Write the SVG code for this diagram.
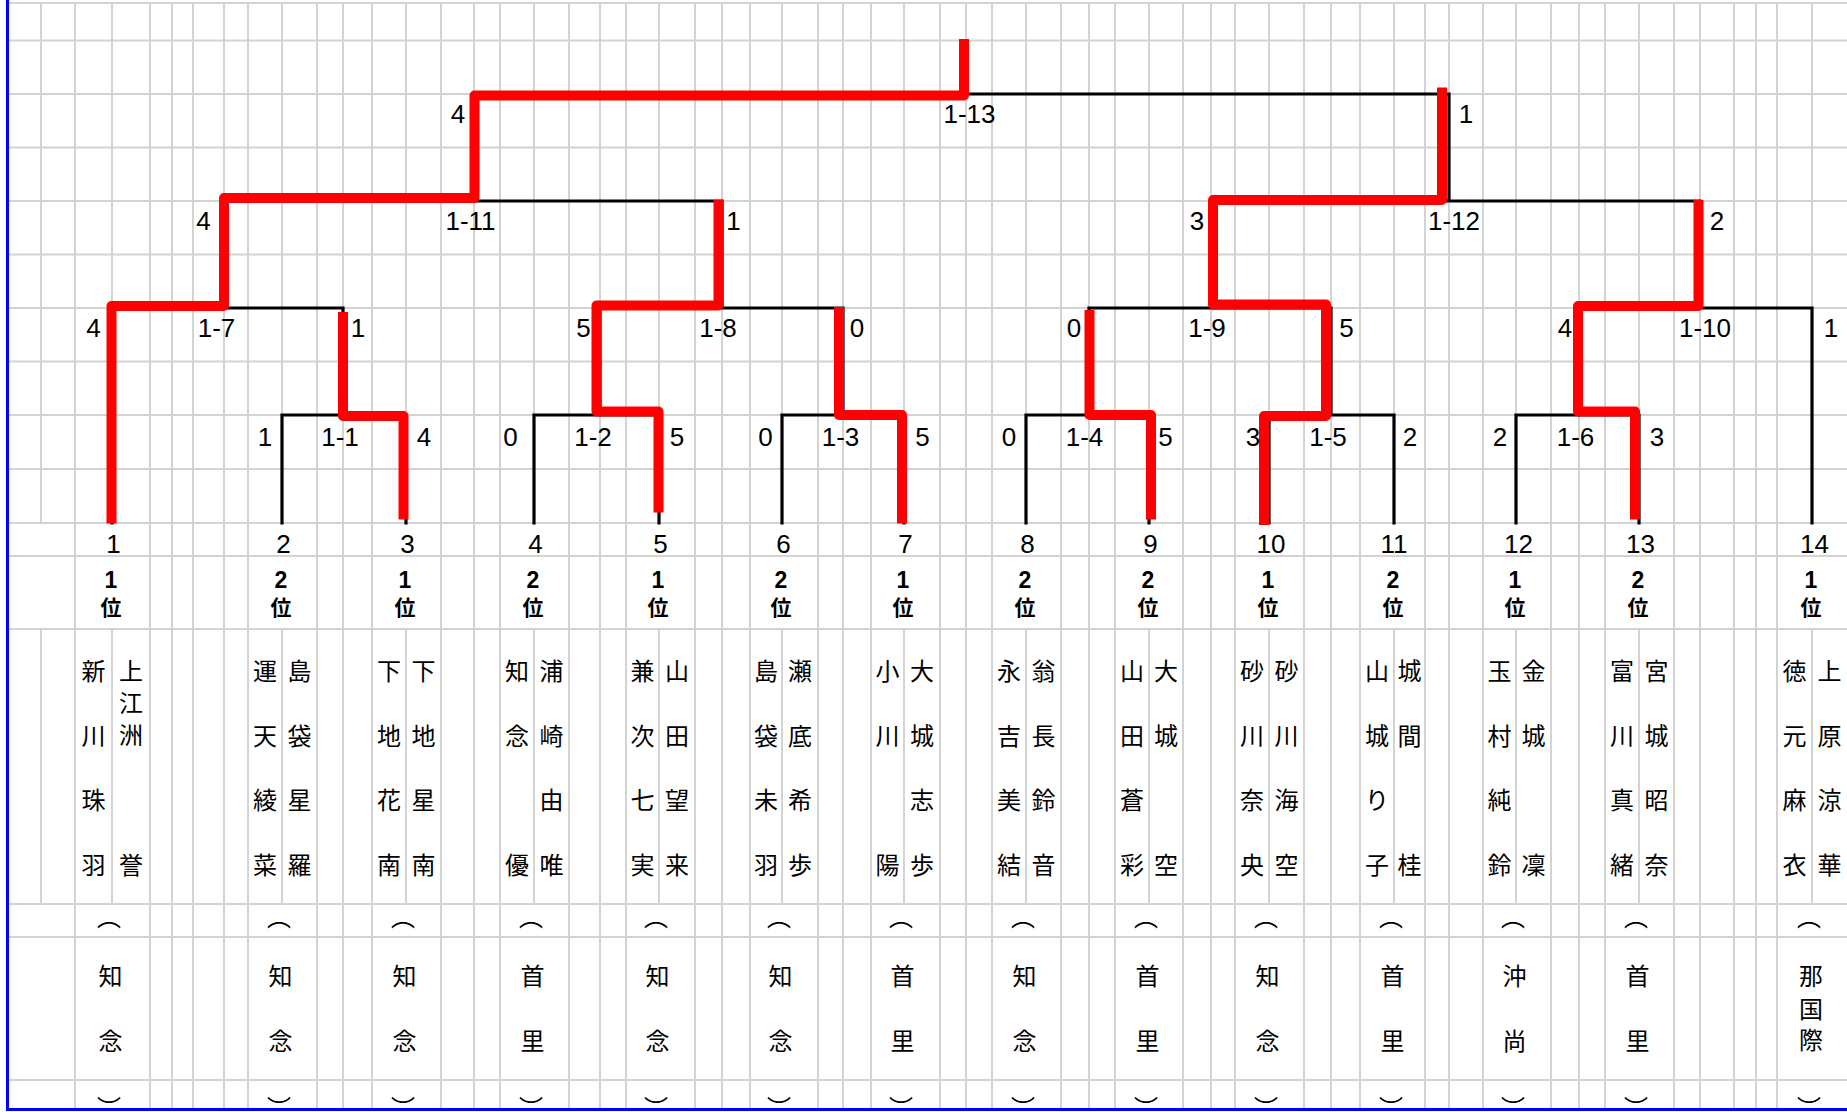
<svg xmlns="http://www.w3.org/2000/svg" width="1847" height="1112" viewBox="0 0 1847 1112">
<style>
.g{stroke:#d3d3d3;stroke-width:2;fill:none}
.bk{stroke:#000;stroke-width:3.2;fill:none;stroke-linecap:square}
.rd{stroke:#ff0000;stroke-width:10;fill:none;stroke-linejoin:round}
.sc{font-family:"Liberation Sans","Noto Sans CJK JP",sans-serif;font-size:26px;text-anchor:middle;fill:#000}
.rk{font-family:"Liberation Sans",sans-serif;font-weight:bold;font-size:23px;text-anchor:middle;fill:#000}
.ri{font-family:"Noto Sans CJK JP",sans-serif;font-weight:bold;font-size:21px;text-anchor:middle;fill:#000}
.nm{font-family:"Noto Sans CJK JP",sans-serif;font-size:24px;text-anchor:middle;fill:#000}
</style>
<rect width="1847" height="1112" fill="#fff"/>
<g id="grid">
<path class="g" d="M8 3H1847M8 40.5H1847M8 94H1847M8 147.5H1847M8 201H1847M8 254.5H1847M8 308H1847M8 361.5H1847M8 415H1847M8 469H1847M8 523H1847M8 556H1847M8 629H1847M8 904H1847M8 937H1847M8 1080H1847"/>
<path class="g" d="M75 3V1108M150 3V1108M172 3V1108M193 3V1108M224 3V1108M248 3V1108M317 3V1108M343 3V1108M372 3V1108M441 3V1108M474 3V1108M500 3V1108M569 3V1108M600 3V1108M626 3V1108M695 3V1108M722 3V1108M750 3V1108M818 3V1108M843 3V1108M871 3V1108M940 3V1108M966 3V1108M992 3V1108M1061 3V1108M1089 3V1108M1115 3V1108M1183 3V1108M1211 3V1108M1235 3V1108M1304 3V1108M1331 3V1108M1360 3V1108M1425 3V1108M1449 3V1108M1483 3V1108M1551 3V1108M1579 3V1108M1605 3V1108M1674 3V1108M1700 3V1108M1734 3V1108M1756 3V1108M1777 3V1108"/>
<path class="g" d="M41 3V523M41 629V904M112 3V523M112 629V904M282 3V523M282 629V904M406 3V523M406 629V904M534 3V523M534 629V904M659 3V523M659 629V904M782 3V523M782 629V904M904 3V523M904 629V904M1026 3V523M1026 629V904M1149 3V523M1149 629V904M1269 3V523M1269 629V904M1394 3V523M1394 629V904M1516 3V523M1516 629V904M1639 3V523M1639 629V904M1812 3V523M1812 629V904"/>
<path d="M7.5 0V1111M6 1109.5H1847" stroke="#0000ff" stroke-width="3" fill="none"/>
</g>
<g id="connectors">
<path class="bk" d="M112 308V523M282 415V523M406 415V523M534 415V523M659 415V523M782 415V523M904 415V523M1026 415V523M1149 415V523M1269 415V523M1394 415V523M1516 415V523M1639 415V523M1812 308V523M282 415H406M534 415H659M782 415H904M1026 415H1149M1269 415H1394M1516 415H1639M343 415V308M600 415V308M843 415V308M1089 415V308M1331 415V308M1579 415V308M112 308H343M600 308H843M1089 308H1331M1579 308H1812M224 308V201M722 308V201M1211 308V201M1700 308V201M224 201H722M1211 201H1700M474 201V94M1449 201V94M474 94H1449"/>
<path class="rd" d="M111.5 523.5V306H224V198H474.5V95.5H964V39"/>
<path class="rd" d="M403.5 519.5V416H343V312"/>
<path class="rd" d="M658.5 512.5V411.5H596.5V305.5H718.5V200"/>
<path class="rd" d="M902 523.5V415H839V307"/>
<path class="rd" d="M1151 519.5V415H1089.5V310"/>
<path class="rd" d="M1264 525V416H1326V304.5H1213V200H1442V87.5"/>
<path class="rd" d="M1635 519.5V411.5H1578V306H1698.5V200"/>
</g>
<g id="scores">
<text class="sc" x="458" y="123">4</text>
<text class="sc" x="969.5" y="123">1-13</text>
<text class="sc" x="1466" y="123">1</text>
<text class="sc" x="203.5" y="230">4</text>
<text class="sc" x="470.5" y="230">1-11</text>
<text class="sc" x="733.5" y="230">1</text>
<text class="sc" x="1197" y="230">3</text>
<text class="sc" x="1454" y="230">1-12</text>
<text class="sc" x="1717" y="230">2</text>
<text class="sc" x="93.5" y="337">4</text>
<text class="sc" x="216.5" y="337">1-7</text>
<text class="sc" x="358" y="337">1</text>
<text class="sc" x="583.5" y="337">5</text>
<text class="sc" x="718" y="337">1-8</text>
<text class="sc" x="857" y="337">0</text>
<text class="sc" x="1074" y="337">0</text>
<text class="sc" x="1207" y="337">1-9</text>
<text class="sc" x="1346.5" y="337">5</text>
<text class="sc" x="1565" y="337">4</text>
<text class="sc" x="1705" y="337">1-10</text>
<text class="sc" x="1831" y="337">1</text>
<text class="sc" x="265" y="446">1</text>
<text class="sc" x="340" y="446">1-1</text>
<text class="sc" x="424" y="446">4</text>
<text class="sc" x="510.5" y="446">0</text>
<text class="sc" x="593" y="446">1-2</text>
<text class="sc" x="677" y="446">5</text>
<text class="sc" x="765.5" y="446">0</text>
<text class="sc" x="840.5" y="446">1-3</text>
<text class="sc" x="922.5" y="446">5</text>
<text class="sc" x="1009" y="446">0</text>
<text class="sc" x="1084.5" y="446">1-4</text>
<text class="sc" x="1165.5" y="446">5</text>
<text class="sc" x="1253" y="446">3</text>
<text class="sc" x="1328" y="446">1-5</text>
<text class="sc" x="1410" y="446">2</text>
<text class="sc" x="1500" y="446">2</text>
<text class="sc" x="1575.5" y="446">1-6</text>
<text class="sc" x="1657" y="446">3</text>
</g>
<g id="team1">
<text class="sc" x="113.5" y="553">1</text>
<text class="rk" x="111" y="587.5">1</text><text class="ri" x="111" y="615">位</text>
<text class="nm" x="93.5" y="680">新</text><text class="nm" x="93.5" y="744.5">川</text><text class="nm" x="93.5" y="809">珠</text><text class="nm" x="93.5" y="873.5">羽</text>
<text class="nm" x="131" y="680">上</text><text class="nm" x="131" y="712">江</text><text class="nm" x="131" y="744">洲</text><text class="nm" x="131" y="873.5">誉</text>
<text class="nm" x="109" y="926">︵</text><text class="nm" x="110.5" y="985">知</text><text class="nm" x="110.5" y="1049.5">念</text><text class="nm" x="109" y="1117">︶</text>
</g>
<g id="team2">
<text class="sc" x="283.5" y="553">2</text>
<text class="rk" x="281" y="587.5">2</text><text class="ri" x="281" y="615">位</text>
<text class="nm" x="265" y="680">運</text><text class="nm" x="265" y="744.5">天</text><text class="nm" x="265" y="809">綾</text><text class="nm" x="265" y="873.5">菜</text>
<text class="nm" x="299.5" y="680">島</text><text class="nm" x="299.5" y="744.5">袋</text><text class="nm" x="299.5" y="809">星</text><text class="nm" x="299.5" y="873.5">羅</text>
<text class="nm" x="279" y="926">︵</text><text class="nm" x="280.5" y="985">知</text><text class="nm" x="280.5" y="1049.5">念</text><text class="nm" x="279" y="1117">︶</text>
</g>
<g id="team3">
<text class="sc" x="407.5" y="553">3</text>
<text class="rk" x="405" y="587.5">1</text><text class="ri" x="405" y="615">位</text>
<text class="nm" x="389" y="680">下</text><text class="nm" x="389" y="744.5">地</text><text class="nm" x="389" y="809">花</text><text class="nm" x="389" y="873.5">南</text>
<text class="nm" x="423.5" y="680">下</text><text class="nm" x="423.5" y="744.5">地</text><text class="nm" x="423.5" y="809">星</text><text class="nm" x="423.5" y="873.5">南</text>
<text class="nm" x="403" y="926">︵</text><text class="nm" x="404.5" y="985">知</text><text class="nm" x="404.5" y="1049.5">念</text><text class="nm" x="403" y="1117">︶</text>
</g>
<g id="team4">
<text class="sc" x="535.5" y="553">4</text>
<text class="rk" x="533" y="587.5">2</text><text class="ri" x="533" y="615">位</text>
<text class="nm" x="517" y="680">知</text><text class="nm" x="517" y="744.5">念</text><text class="nm" x="517" y="873.5">優</text>
<text class="nm" x="551.5" y="680">浦</text><text class="nm" x="551.5" y="744.5">崎</text><text class="nm" x="551.5" y="809">由</text><text class="nm" x="551.5" y="873.5">唯</text>
<text class="nm" x="531" y="926">︵</text><text class="nm" x="532.5" y="985">首</text><text class="nm" x="532.5" y="1049.5">里</text><text class="nm" x="531" y="1117">︶</text>
</g>
<g id="team5">
<text class="sc" x="660.5" y="553">5</text>
<text class="rk" x="658" y="587.5">1</text><text class="ri" x="658" y="615">位</text>
<text class="nm" x="642.5" y="680">兼</text><text class="nm" x="642.5" y="744.5">次</text><text class="nm" x="642.5" y="809">七</text><text class="nm" x="642.5" y="873.5">実</text>
<text class="nm" x="677" y="680">山</text><text class="nm" x="677" y="744.5">田</text><text class="nm" x="677" y="809">望</text><text class="nm" x="677" y="873.5">来</text>
<text class="nm" x="656" y="926">︵</text><text class="nm" x="657.5" y="985">知</text><text class="nm" x="657.5" y="1049.5">念</text><text class="nm" x="656" y="1117">︶</text>
</g>
<g id="team6">
<text class="sc" x="783.5" y="553">6</text>
<text class="rk" x="781" y="587.5">2</text><text class="ri" x="781" y="615">位</text>
<text class="nm" x="766" y="680">島</text><text class="nm" x="766" y="744.5">袋</text><text class="nm" x="766" y="809">未</text><text class="nm" x="766" y="873.5">羽</text>
<text class="nm" x="800" y="680">瀬</text><text class="nm" x="800" y="744.5">底</text><text class="nm" x="800" y="809">希</text><text class="nm" x="800" y="873.5">歩</text>
<text class="nm" x="779" y="926">︵</text><text class="nm" x="780.5" y="985">知</text><text class="nm" x="780.5" y="1049.5">念</text><text class="nm" x="779" y="1117">︶</text>
</g>
<g id="team7">
<text class="sc" x="905.5" y="553">7</text>
<text class="rk" x="903" y="587.5">1</text><text class="ri" x="903" y="615">位</text>
<text class="nm" x="887.5" y="680">小</text><text class="nm" x="887.5" y="744.5">川</text><text class="nm" x="887.5" y="873.5">陽</text>
<text class="nm" x="922" y="680">大</text><text class="nm" x="922" y="744.5">城</text><text class="nm" x="922" y="809">志</text><text class="nm" x="922" y="873.5">歩</text>
<text class="nm" x="901" y="926">︵</text><text class="nm" x="902.5" y="985">首</text><text class="nm" x="902.5" y="1049.5">里</text><text class="nm" x="901" y="1117">︶</text>
</g>
<g id="team8">
<text class="sc" x="1027.5" y="553">8</text>
<text class="rk" x="1025" y="587.5">2</text><text class="ri" x="1025" y="615">位</text>
<text class="nm" x="1009" y="680">永</text><text class="nm" x="1009" y="744.5">吉</text><text class="nm" x="1009" y="809">美</text><text class="nm" x="1009" y="873.5">結</text>
<text class="nm" x="1043.5" y="680">翁</text><text class="nm" x="1043.5" y="744.5">長</text><text class="nm" x="1043.5" y="809">鈴</text><text class="nm" x="1043.5" y="873.5">音</text>
<text class="nm" x="1023" y="926">︵</text><text class="nm" x="1024.5" y="985">知</text><text class="nm" x="1024.5" y="1049.5">念</text><text class="nm" x="1023" y="1117">︶</text>
</g>
<g id="team9">
<text class="sc" x="1150.5" y="553">9</text>
<text class="rk" x="1148" y="587.5">2</text><text class="ri" x="1148" y="615">位</text>
<text class="nm" x="1132" y="680">山</text><text class="nm" x="1132" y="744.5">田</text><text class="nm" x="1132" y="809">蒼</text><text class="nm" x="1132" y="873.5">彩</text>
<text class="nm" x="1166" y="680">大</text><text class="nm" x="1166" y="744.5">城</text><text class="nm" x="1166" y="873.5">空</text>
<text class="nm" x="1146" y="926">︵</text><text class="nm" x="1147.5" y="985">首</text><text class="nm" x="1147.5" y="1049.5">里</text><text class="nm" x="1146" y="1117">︶</text>
</g>
<g id="team10">
<text class="sc" x="1271" y="553">10</text>
<text class="rk" x="1268" y="587.5">1</text><text class="ri" x="1268" y="615">位</text>
<text class="nm" x="1252" y="680">砂</text><text class="nm" x="1252" y="744.5">川</text><text class="nm" x="1252" y="809">奈</text><text class="nm" x="1252" y="873.5">央</text>
<text class="nm" x="1286.5" y="680">砂</text><text class="nm" x="1286.5" y="744.5">川</text><text class="nm" x="1286.5" y="809">海</text><text class="nm" x="1286.5" y="873.5">空</text>
<text class="nm" x="1266" y="926">︵</text><text class="nm" x="1267.5" y="985">知</text><text class="nm" x="1267.5" y="1049.5">念</text><text class="nm" x="1266" y="1117">︶</text>
</g>
<g id="team11">
<text class="sc" x="1394" y="553">11</text>
<text class="rk" x="1393" y="587.5">2</text><text class="ri" x="1393" y="615">位</text>
<text class="nm" x="1377" y="680">山</text><text class="nm" x="1377" y="744.5">城</text><text class="nm" x="1377" y="809">り</text><text class="nm" x="1377" y="873.5">子</text>
<text class="nm" x="1409.5" y="680">城</text><text class="nm" x="1409.5" y="744.5">間</text><text class="nm" x="1409.5" y="873.5">桂</text>
<text class="nm" x="1391" y="926">︵</text><text class="nm" x="1392.5" y="985">首</text><text class="nm" x="1392.5" y="1049.5">里</text><text class="nm" x="1391" y="1117">︶</text>
</g>
<g id="team12">
<text class="sc" x="1518.5" y="553">12</text>
<text class="rk" x="1515" y="587.5">1</text><text class="ri" x="1515" y="615">位</text>
<text class="nm" x="1499.5" y="680">玉</text><text class="nm" x="1499.5" y="744.5">村</text><text class="nm" x="1499.5" y="809">純</text><text class="nm" x="1499.5" y="873.5">鈴</text>
<text class="nm" x="1533.5" y="680">金</text><text class="nm" x="1533.5" y="744.5">城</text><text class="nm" x="1533.5" y="873.5">凜</text>
<text class="nm" x="1513" y="926">︵</text><text class="nm" x="1514.5" y="985">沖</text><text class="nm" x="1514.5" y="1049.5">尚</text><text class="nm" x="1513" y="1117">︶</text>
</g>
<g id="team13">
<text class="sc" x="1640.5" y="553">13</text>
<text class="rk" x="1638" y="587.5">2</text><text class="ri" x="1638" y="615">位</text>
<text class="nm" x="1622" y="680">富</text><text class="nm" x="1622" y="744.5">川</text><text class="nm" x="1622" y="809">真</text><text class="nm" x="1622" y="873.5">緒</text>
<text class="nm" x="1656.5" y="680">宮</text><text class="nm" x="1656.5" y="744.5">城</text><text class="nm" x="1656.5" y="809">昭</text><text class="nm" x="1656.5" y="873.5">奈</text>
<text class="nm" x="1636" y="926">︵</text><text class="nm" x="1637.5" y="985">首</text><text class="nm" x="1637.5" y="1049.5">里</text><text class="nm" x="1636" y="1117">︶</text>
</g>
<g id="team14">
<text class="sc" x="1814.5" y="553">14</text>
<text class="rk" x="1811" y="587.5">1</text><text class="ri" x="1811" y="615">位</text>
<text class="nm" x="1794.5" y="680">徳</text><text class="nm" x="1794.5" y="744.5">元</text><text class="nm" x="1794.5" y="809">麻</text><text class="nm" x="1794.5" y="873.5">衣</text>
<text class="nm" x="1829.5" y="680">上</text><text class="nm" x="1829.5" y="744.5">原</text><text class="nm" x="1829.5" y="809">涼</text><text class="nm" x="1829.5" y="873.5">華</text>
<text class="nm" x="1809" y="926">︵</text><text class="nm" x="1811" y="985">那</text><text class="nm" x="1811" y="1018">国</text><text class="nm" x="1811" y="1049">際</text><text class="nm" x="1809" y="1117">︶</text>
</g>
</svg>
